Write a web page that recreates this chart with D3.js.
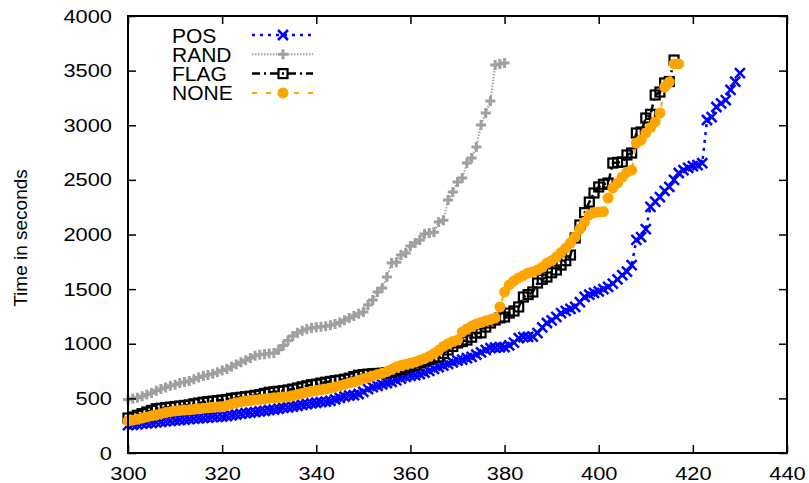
<!DOCTYPE html>
<html>
<head>
<meta charset="utf-8">
<script src="https://cdn.jsdelivr.net/npm/d3@7/dist/d3.min.js"></script>
<style>
  body { margin: 0; background: #fff; }
  text { font-family: "Liberation Sans", Arial, Helvetica, sans-serif; fill: #000; }
</style>
</head>
<body>
<div id="chart"></div>
<script>
"use strict";

// instances solved (x) start at 300, one point per instance
var seriesNames = ["POS", "RAND", "FLAG", "NONE"];
var xTicks = [300, 320, 340, 360, 380, 400, 420, 440];
var yTicks = [0, 500, 1000, 1500, 2000, 2500, 3000, 3500, 4000];

var posStart = 300;
var posTimes = [
  256, 258, 262, 268, 272, 275, 280, 285, 290, 294,
  298, 302, 306, 310, 314, 318, 322, 325, 328, 330,
  333, 338, 345, 352, 358, 365, 370, 375, 380, 385,
  392, 398, 405, 412, 418, 425, 432, 440, 448, 455,
  460, 465, 470, 478, 490, 505, 515, 525, 530, 540,
  560, 585, 604, 615, 628, 640, 650, 665, 680, 696,
  705, 712, 722, 735, 752, 770, 787, 800, 815, 830,
  845, 855, 868, 879, 900, 920, 943, 960, 965, 968,
  970, 985, 1010, 1052, 1060, 1062, 1065, 1098, 1150, 1190,
  1215, 1245, 1281, 1300, 1320, 1337, 1380, 1428, 1450, 1465,
  1480, 1500, 1520, 1550, 1590, 1629, 1660, 1720, 1950, 1977,
  2050, 2252, 2300, 2343, 2400, 2435, 2499, 2563, 2590, 2609,
  2625, 2636, 2654, 3048, 3075, 3167, 3200, 3231, 3323, 3400,
  3478
];

var randStart = 300;
var randTimes = [
  490, 500, 505, 520, 535, 550, 570, 585, 600, 615,
  625, 640, 650, 660, 675, 690, 705, 715, 725, 740,
  755, 770, 790, 810, 830, 850, 870, 890, 900, 905,
  910, 915, 945, 985, 1030, 1070, 1100, 1120, 1135, 1145,
  1150, 1155, 1160, 1170, 1180, 1195, 1215, 1235, 1255, 1275,
  1291, 1355, 1400, 1474, 1510, 1611, 1739, 1745, 1812, 1831,
  1895, 1922, 1950, 2005, 2014, 2020, 2114, 2130, 2316, 2389,
  2481, 2517, 2654, 2700, 2801, 3002, 3112, 3222, 3551, 3560,
  3570
];

var flagStart = 300;
var flagTimes = [
  320, 330, 345, 360, 375, 390, 405, 410, 415, 420,
  425, 430, 435, 440, 450, 458, 465, 470, 475, 480,
  485, 490, 500, 505, 510, 515, 520, 528, 535, 545,
  555, 560, 565, 570, 577, 585, 595, 605, 615, 625,
  630, 640, 648, 655, 662, 668, 675, 685, 700, 712,
  718, 722, 725, 728, 730, 735, 740, 752, 765, 780,
  795, 805, 825, 840, 855, 870, 880, 910, 943, 975,
  1007, 1020, 1034, 1060, 1098, 1100, 1153, 1190, 1217, 1236,
  1245, 1281, 1300, 1337, 1428, 1450, 1474, 1556, 1590, 1611,
  1650, 1675, 1721, 1760, 1812, 1968, 2087, 2200, 2297, 2380,
  2435, 2460, 2471, 2654, 2660, 2664, 2728, 2746, 2929, 2938,
  3066, 3100, 3277, 3304, 3387, 3400, 3597
];

var noneStart = 300;
var noneTimes = [
  293, 300, 310, 320, 330, 340, 348, 360, 370, 378,
  385, 390, 393, 396, 400, 405, 410, 415, 418, 420,
  423, 435, 448, 460, 467, 475, 480, 485, 490, 495,
  500, 505, 508, 512, 515, 525, 535, 545, 555, 565,
  572, 578, 585, 595, 605, 615, 628, 640, 650, 665,
  680, 690, 705, 718, 730, 745, 765, 787, 800, 812,
  822, 833, 850, 865, 885, 910, 940, 975, 1000, 1020,
  1034, 1107, 1135, 1160, 1180, 1195, 1210, 1220, 1236, 1337,
  1474, 1538, 1575, 1602, 1625, 1648, 1660, 1675, 1700, 1739,
  1760, 1794, 1835, 1876, 1925, 1977, 2050, 2114, 2180, 2200,
  2206, 2210, 2334, 2426, 2470, 2526, 2570, 2590, 2837, 2865,
  2929, 2980, 3030, 3112, 3350, 3396, 3561, 3561
];

var width = 809, height = 483;
var margin = { top: 16, right: 22, bottom: 30, left: 128 };
var w = width - margin.left - margin.right,
    h = height - margin.top - margin.bottom;

var x = d3.scaleLinear().domain([300, 440]).range([0, w]);
var y = d3.scaleLinear().domain([0, 4000]).range([h, 0]);

var styles = {
  POS:  { color: "#0000ff", dash: "3,5",     width: 2.5, marker: "cross" },
  RAND: { color: "#a0a0a0", dash: "1.5,1.5", width: 2,   marker: "plus" },
  FLAG: { color: "#000000", dash: "8,4,2,4", width: 2.5, marker: "square" },
  NONE: { color: "#ffa500", dash: "5,9",     width: 2,   marker: "circle" }
};

function toPoints(start, times) {
  return times.map(function(t, i) { return { x: start + i, y: t }; });
}

var series = [
  { name: "POS",  points: toPoints(posStart, posTimes) },
  { name: "RAND", points: toPoints(randStart, randTimes) },
  { name: "FLAG", points: toPoints(flagStart, flagTimes) },
  { name: "NONE", points: toPoints(noneStart, noneTimes) }
];

var svg = d3.select("#chart")
  .append("svg")
  .attr("width", width)
  .attr("height", height);

var g = svg.append("g")
  .attr("transform", "translate(" + margin.left + "," + margin.top + ")");

// draw one marker glyph into a selection of groups
function drawMarker(sel, kind, color) {
  if (kind === "cross") {
    sel.append("path").attr("d", "M-5,-5L5,5M-5,5L5,-5")
      .attr("stroke", color).attr("stroke-width", 2.5).attr("fill", "none");
  } else if (kind === "plus") {
    sel.append("path").attr("d", "M-5,0L5,0M0,-5L0,5")
      .attr("stroke", color).attr("stroke-width", 3).attr("fill", "none");
  } else if (kind === "square") {
    sel.append("rect").attr("x", -4.5).attr("y", -4.5).attr("width", 9).attr("height", 9)
      .attr("stroke", color).attr("stroke-width", 2.2).attr("fill", "none");
  } else {
    sel.append("circle").attr("r", 5.5).attr("fill", color);
  }
}

var line = d3.line()
  .x(function(d) { return x(d.x); })
  .y(function(d) { return y(d.y); });

// series, drawn in legend order so NONE ends on top
series.forEach(function(s) {
  var st = styles[s.name];
  var sg = g.append("g").attr("class", "series");
  sg.append("path")
    .datum(s.points)
    .attr("d", line)
    .attr("fill", "none")
    .attr("stroke", st.color)
    .attr("stroke-width", st.width)
    .attr("stroke-dasharray", st.dash);
  var m = sg.selectAll("g.pt")
    .data(s.points)
    .enter()
    .append("g")
    .attr("class", "pt")
    .attr("transform", function(d) { return "translate(" + x(d.x) + "," + y(d.y) + ")"; });
  drawMarker(m, st.marker, st.color);
});

// axes: inward ticks, mirrored on top and right
var sx = 1.15;
var bottom = g.append("g")
  .attr("transform", "translate(0," + h + ")")
  .call(d3.axisBottom(x).tickValues(xTicks).tickFormat(d3.format("d"))
    .tickSizeInner(-8).tickSizeOuter(0).tickPadding(14));
bottom.selectAll("text")
  .attr("transform", "scale(" + sx + ",1)")
  .style("font-size", "19px");

var left = g.append("g")
  .call(d3.axisLeft(y).tickValues(yTicks).tickFormat(d3.format("d"))
    .tickSizeInner(-8).tickSizeOuter(0).tickPadding(16));
left.selectAll("text")
  .attr("x", -16 / sx)
  .attr("transform", "scale(" + sx + ",1)")
  .style("font-size", "19px");

g.append("g")
  .call(d3.axisTop(x).tickValues(xTicks).tickSizeInner(-8).tickSizeOuter(0).tickFormat(""));
g.append("g")
  .attr("transform", "translate(" + w + ",0)")
  .call(d3.axisRight(y).tickValues(yTicks).tickSizeInner(-8).tickSizeOuter(0).tickFormat(""));

g.selectAll(".domain").remove();
g.selectAll(".tick line").attr("stroke", "#000").attr("stroke-width", 1.5);

g.append("rect")
  .attr("width", w)
  .attr("height", h)
  .attr("fill", "none")
  .attr("stroke", "#000")
  .attr("stroke-width", 2);

// y axis title
svg.append("text")
  .attr("transform", "translate(27,238) rotate(-90)")
  .attr("text-anchor", "middle")
  .style("font-size", "19px")
  .text("Time in seconds");

// legend
var legend = svg.append("g").attr("transform", "translate(172,35)");
var rows = legend.selectAll("g.row")
  .data(seriesNames)
  .enter()
  .append("g")
  .attr("class", "row")
  .attr("transform", function(d, i) { return "translate(0," + (i * 19.3) + ")"; });

rows.append("text")
  .attr("y", 7.5)
  .style("font-size", "21px")
  .text(function(d) { return d; });

rows.append("line")
  .attr("x1", 80).attr("x2", 141)
  .attr("stroke", function(d) { return styles[d].color; })
  .attr("stroke-width", function(d) { return styles[d].width; })
  .attr("stroke-dasharray", function(d) { return styles[d].dash; });

rows.each(function(d) {
  var mk = d3.select(this).append("g").attr("transform", "translate(111,0)");
  drawMarker(mk, styles[d].marker, styles[d].color);
});
</script>
</body>
</html>
